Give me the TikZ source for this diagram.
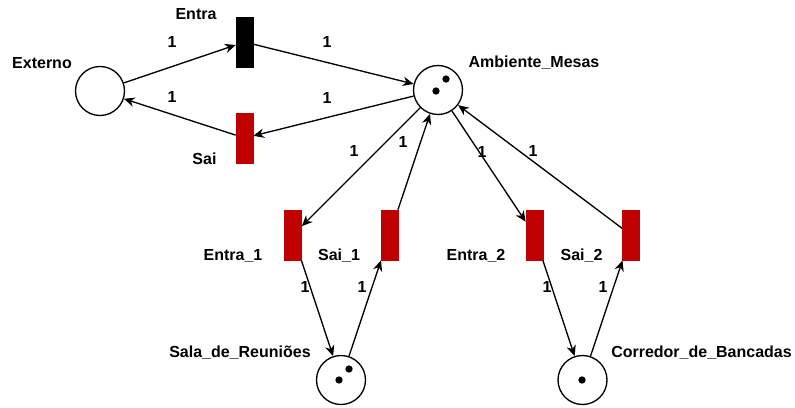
\documentclass[tikz,border=0pt]{standalone}
\usepackage{fontspec}
\setmainfont{Liberation Sans}
\usetikzlibrary{arrows.meta}
\definecolor{transred}{RGB}{192,0,0}

\begin{document}
\begin{tikzpicture}[x=0.75pt, y=-0.75pt, line width=1pt,
  >={Stealth[length=8pt,width=7pt,inset=2.5pt]},
  place/.style = {draw, circle, minimum size=36.75pt, inner sep=0pt},
  trans/.style = {draw=transred, fill=transred, line width=0.5pt, minimum width=12.75pt, minimum height=37.5pt, inner sep=0pt},
  tok/.style = {circle, fill, inner sep=0pt, minimum size=5.5pt},
  lbl/.style = {anchor=base, inner sep=0pt, font=\bfseries\fontsize{12}{14}\selectfont}]
  \useasboundingbox (0,0) rectangle (795,407);
  % places
  \node[place] (ext) at (100,91) {};
  \node[place] (amb) at (438,90) {};
  \node[place] (sala) at (341,380) {};
  \node[place] (corr) at (582.5,380) {};
  % tokens
  \node[tok] (amb1) at (436,91) {};
  \node[tok] (amb2) at (446,79) {};
  \node[tok] (sala1) at (339,380) {};
  \node[tok] (sala2) at (349,369) {};
  \node[tok] (corr1) at (582,380) {};
  % transitions
  \node[trans, draw=black, fill=black] (entra) at (244.5,42) {};
  \node[trans] (sai) at (244.5,138) {};
  \node[trans] (entra1) at (293,235) {};
  \node[trans] (sai1) at (389.5,235) {};
  \node[trans] (entra2) at (534.5,235) {};
  \node[trans] (sai2) at (631,235) {};
  % names
  \node[lbl] (lext) at (42,68) {Externo};
  \node[lbl] (lentra) at (196,19) {Entra};
  \node[lbl] (lsai) at (204.5,164) {Sai};
  \node[lbl] (lamb) at (534,67) {Ambiente\_Mesas};
  \node[lbl] (lentra1) at (233,260) {Entra\_1};
  \node[lbl] (lsai1) at (339,260) {Sai\_1};
  \node[lbl] (lentra2) at (476,260) {Entra\_2};
  \node[lbl] (lsai2) at (581.5,260) {Sai\_2};
  \node[lbl] (lsala) at (240,357) {Sala\_de\_Reuniões};
  \node[lbl] (lcorr) at (701.5,357) {Corredor\_de\_Bancadas};
  % weights
  \node[lbl] (w1) at (172,47) {1};
  \node[lbl] (w2) at (327,47) {1};
  \node[lbl] (w3) at (172,102) {1};
  \node[lbl] (w4) at (327,103) {1};
  \node[lbl] (w5) at (354,156) {1};
  \node[lbl] (w6) at (403,147) {1};
  \node[lbl] (w7) at (482,157) {1};
  \node[lbl] (w8) at (533,156) {1};
  \node[lbl] (w9) at (305,292) {1};
  \node[lbl] (w10) at (362,292) {1};
  \node[lbl] (w11) at (547,292) {1};
  \node[lbl] (w12) at (603,292) {1};
  % arcs
  \draw[->] (ext) to (entra);
  \draw[->] (entra) to (amb);
  \draw[->] (amb) to (sai);
  \draw[->] (sai) to (ext);
  \draw[->] (amb) to (entra1);
  \draw[->] (sai1) to (amb);
  \draw[->] (amb) to (entra2);
  \draw[->] (sai2) to (amb);
  \draw[->] (entra1) to (sala);
  \draw[->] (sala) to (sai1);
  \draw[->] (entra2) to (corr);
  \draw[->] (corr) to (sai2);
\end{tikzpicture}
\end{document}
